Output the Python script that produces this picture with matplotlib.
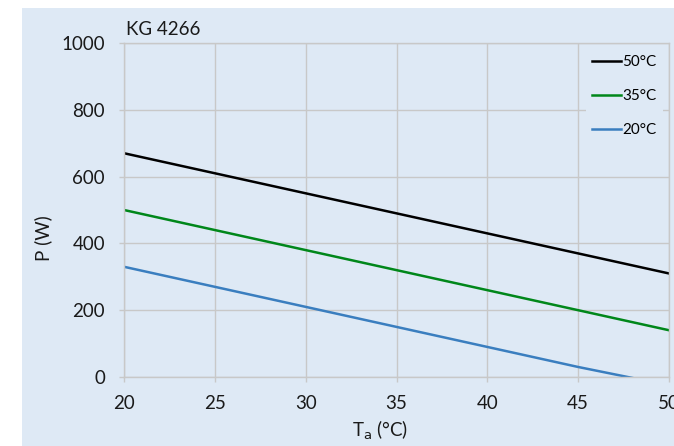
import matplotlib
matplotlib.use("Agg")
import matplotlib.pyplot as plt
from matplotlib.patches import Rectangle

plt.rcParams['font.family'] = ['Lato', 'DejaVu Sans']

ta = [20, 25, 30, 35, 40, 45, 50]
p_50 = [670, 610, 550, 490, 430, 370, 310]
p_35 = [500, 440, 380, 320, 260, 200, 140]
p_20 = [330, 270, 210, 150, 90, 30, -25]
series_labels = ["50°C", "35°C", "20°C"]
title = "KG 4266"
xticks = [20, 25, 30, 35, 40, 45, 50]
yticks = [0, 200, 400, 600, 800, 1000]

bg = "#dee9f5"
grid = "#c8c8c8"

fig = plt.figure(figsize=(6.74, 4.46), dpi=100)
fig.patches.append(Rectangle((22/674, 0), 1, (446-8)/446, transform=fig.transFigure,
                             facecolor=bg, edgecolor="none", zorder=-10))
ax = fig.add_axes([124/674, (446-377)/446, (669-124)/674, (377-43)/446])
ax.set_facecolor(bg)
ax.plot(ta, p_50, color="#000000", lw=1.8, label=series_labels[0])
ax.plot(ta, p_35, color="#00871a", lw=1.8, label=series_labels[1])
ax.plot(ta, p_20, color="#3a7ebf", lw=1.8, label=series_labels[2])
ax.set_xlim(20, 50)
ax.set_ylim(0, 1000)
ax.set_xticks(xticks)
ax.set_yticks(yticks)
ax.grid(True, color=grid, lw=1)
ax.set_axisbelow(True)
for s in ax.spines.values():
    s.set_color(grid)
    s.set_linewidth(1)
ax.tick_params(axis='both', colors=grid, length=3.6, width=1, labelcolor="#1a1a1a", labelsize=13.5)
ax.tick_params(axis='x', pad=9.5)
ax.tick_params(axis='y', pad=10)
ax.set_ylabel("P (W)", fontsize=13.5, color="#1a1a1a", va="center", ha="center")
ax.yaxis.set_label_coords(-0.149, 0.416)
ax.set_xlabel("T$_\\mathrm{a}$ (°C)", fontsize=13.5, color="#1a1a1a", va="center", ha="center")
ax.xaxis.set_label_coords(0.47, -0.16)
ax.text(0.004, 1.015, title, transform=ax.transAxes, fontsize=13.5, color="#1a1a1a",
        ha="left", va="bottom")
leg = ax.legend(loc="upper right", bbox_to_anchor=(0.997, 0.995), fontsize=11,
                frameon=True, facecolor=bg, edgecolor="none", framealpha=1,
                handlelength=1.9, handletextpad=0.1, labelspacing=1.3,
                borderaxespad=0.3, borderpad=0.4)
fig.savefig("out.png", dpi=100)
